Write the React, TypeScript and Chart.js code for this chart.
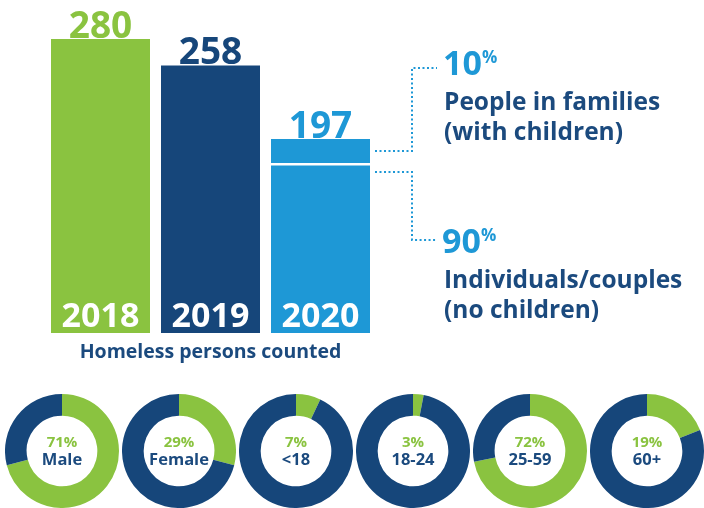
import React, { useEffect, useRef } from "react";
import { Chart, registerables } from "chart.js";

Chart.register(...registerables);

// ---------- data ----------
const years = ["2018", "2019", "2020"];
const totals = [280, 258, 197];
const countedByYear = [280, 258, null];
const individuals2020 = [null, null, 177];
const families2020 = [null, null, 20];
const familiesPct = "10";
const individualsPct = "90";
const groupLabels = ["Male", "Female", "<18", "18-24", "25-59", "60+"];
const groupShares = [71, 29, 7, 3, 72, 19];

// ---------- style ----------
const GREEN = "#8ac340";
const NAVY = "#16467a";
const BLUE = "#1e98d6";
const TEXT_NAVY = "#1b4a7e";
const FONT = '"Open Sans", "DejaVu Sans", sans-serif';
const yearColors = [GREEN, NAVY, BLUE];

const barPlugin = {
  id: "barLabels",
  afterDatasetsDraw(chart: any) {
    const ctx = chart.ctx as CanvasRenderingContext2D;
    const area = chart.chartArea;
    ctx.save();
    ctx.textAlign = "center";
    ctx.textBaseline = "alphabetic";
    years.forEach((yr, i) => {
      let topEl: any = null;
      chart.data.datasets.forEach((ds: any, di: number) => {
        if (ds.data[i] == null) return;
        const el = chart.getDatasetMeta(di).data[i];
        if (!topEl || el.y < topEl.y) topEl = el;
      });
      if (!topEl) return;
      ctx.font = `bold 37px ${FONT}`;
      ctx.fillStyle = yearColors[i];
      ctx.fillText(String(totals[i]), topEl.x, topEl.y - 1);
      ctx.font = `bold 34px ${FONT}`;
      ctx.fillStyle = "#ffffff";
      ctx.fillText(yr, topEl.x, area.bottom - 6);
    });
    ctx.font = `bold 19.5px ${FONT}`;
    ctx.fillStyle = TEXT_NAVY;
    ctx.fillText("Homeless persons counted", (area.left + area.right) / 2, 358);

    // connectors
    const famEl = chart.getDatasetMeta(2).data[2];
    const indEl = chart.getDatasetMeta(1).data[2];
    const right = famEl.x + famEl.width / 2 + 5;
    const row1 = (famEl.y + indEl.y) / 2;
    const row2 = indEl.y + 9;
    const vx = 412;
    ctx.strokeStyle = BLUE;
    ctx.lineWidth = 2;
    ctx.setLineDash([2, 2.5]);
    ctx.beginPath();
    ctx.moveTo(right, row1);
    ctx.lineTo(vx, row1);
    ctx.lineTo(vx, 68);
    ctx.lineTo(437, 68);
    ctx.moveTo(right, row2);
    ctx.lineTo(vx, row2);
    ctx.lineTo(vx, 240);
    ctx.lineTo(437, 240);
    ctx.stroke();
    ctx.setLineDash([]);

    // annotations
    ctx.textAlign = "left";
    const pct = (num: string, x: number, base: number) => {
      ctx.font = `bold 34px ${FONT}`;
      ctx.fillStyle = BLUE;
      ctx.fillText(num, x, base);
      const w = ctx.measureText(num).width;
      ctx.font = `bold 17px ${FONT}`;
      ctx.fillText("%", x + w, base - 12);
    };
    pct(familiesPct, 443, 75);
    ctx.font = `bold 24.5px ${FONT}`;
    ctx.fillStyle = TEXT_NAVY;
    ctx.fillText("People in families", 444, 110);
    ctx.fillText("(with children)", 444, 140);
    pct(individualsPct, 442, 253);
    ctx.font = `bold 24.5px ${FONT}`;
    ctx.fillStyle = TEXT_NAVY;
    ctx.fillText("Individuals/couples", 444, 288);
    ctx.fillText("(no children)", 444, 318);
    ctx.restore();
  },
};

const donutPlugin = {
  id: "donutCenter",
  afterDraw(chart: any) {
    const ctx = chart.ctx as CanvasRenderingContext2D;
    const a = chart.chartArea;
    const cx = (a.left + a.right) / 2;
    const cy = (a.top + a.bottom) / 2;
    const idx = chart.options.plugins.donutCenter.index;
    ctx.save();
    ctx.textAlign = "center";
    ctx.textBaseline = "alphabetic";
    ctx.font = `bold 15px ${FONT}`;
    ctx.fillStyle = GREEN;
    ctx.fillText(`${groupShares[idx]}%`, cx, cy - 4);
    ctx.font = `bold 16.5px ${FONT}`;
    ctx.fillStyle = TEXT_NAVY;
    ctx.fillText(groupLabels[idx], cx, cy + 14);
    ctx.restore();
  },
};

function Donut({ index }: { index: number }) {
  const ref = useRef<HTMLCanvasElement>(null);
  useEffect(() => {
    if (!ref.current) return;
    const chart = new Chart(ref.current, {
      type: "doughnut",
      data: {
        labels: ["share", "rest"],
        datasets: [
          {
            data: [groupShares[index], 100 - groupShares[index]],
            backgroundColor: [GREEN, NAVY],
            borderWidth: 0,
          },
        ],
      },
      options: {
        responsive: false,
        animation: false,
        devicePixelRatio: 1,
        cutout: "62%",
        events: [],
        layout: { padding: 0 },
        plugins: {
          legend: { display: false },
          tooltip: { enabled: false },
          donutCenter: { index },
        } as any,
      },
      plugins: [donutPlugin],
    });
    return () => chart.destroy();
  }, [index]);
  const size = 114;
  const cx = 62 + index * 116.9;
  return (
    <canvas
      ref={ref}
      width={size}
      height={size}
      style={{
        position: "absolute",
        left: Math.round(cx - size / 2),
        top: 394,
        width: size,
        height: size,
      }}
    />
  );
}

function Bars() {
  const ref = useRef<HTMLCanvasElement>(null);
  useEffect(() => {
    if (!ref.current) return;
    const chart = new Chart(ref.current, {
      type: "bar",
      data: {
        labels: years,
        datasets: [
          {
            label: "Homeless persons counted",
            data: countedByYear,
            backgroundColor: yearColors,
            borderWidth: 0,
          },
          {
            label: "Individuals/couples",
            data: individuals2020,
            backgroundColor: BLUE,
            borderColor: "#ffffff",
            borderWidth: { top: 2.5, left: 0, right: 0, bottom: 0 },
          },
          {
            label: "People in families",
            data: families2020,
            backgroundColor: BLUE,
            borderWidth: 0,
          },
        ] as any,
      },
      options: {
        responsive: false,
        animation: false,
        devicePixelRatio: 1,
        events: [],
        datasets: {
          bar: { categoryPercentage: 1, barPercentage: 0.9, clip: 0 } as any,
        },
        layout: { padding: { left: 45.5, right: 328.5, top: 10, bottom: 47 } },
        scales: {
          x: { display: false, stacked: true, grid: { display: false } },
          y: { display: false, stacked: true, min: 36, max: 304, grid: { display: false } },
        },
        plugins: { legend: { display: false }, tooltip: { enabled: false } },
      },
      plugins: [barPlugin],
    });
    return () => chart.destroy();
  }, []);
  return (
    <canvas
      ref={ref}
      width={704}
      height={380}
      style={{ position: "absolute", left: 0, top: 0, width: 704, height: 380 }}
    />
  );
}

export default function App() {
  return (
    <div
      style={{
        position: "fixed",
        left: 0,
        top: 0,
        width: 704,
        height: 508,
        background: "#ffffff",
        overflow: "hidden",
      }}
    >
      <Bars />
      {groupLabels.map((_, i) => (
        <Donut key={i} index={i} />
      ))}
    </div>
  );
}
